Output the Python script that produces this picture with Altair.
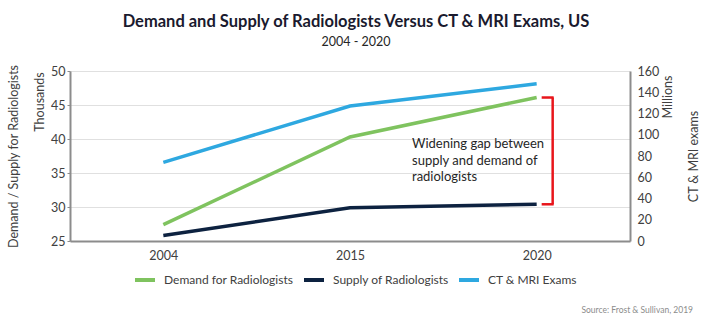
import altair as alt
import pandas as pd

years = ["2004", "2015", "2020"]
demand = [27.4, 40.3, 46.1]
supply = [25.8, 29.9, 30.4]
exams = [74, 127, 148]
series_names = ["Demand for Radiologists", "Supply of Radiologists", "CT & MRI Exams"]
series_colors = ["#7fc35f", "#0d2240", "#2ea8e0"]
left_ticks = [25, 30, 35, 40, 45, 50]
right_ticks = [0, 20, 40, 60, 80, 100, 120, 140, 160]

FONT = "Lato"
GRAY = "#8c8c8c"
TXT = "#404040"

left_df = pd.DataFrame(
    {"year": years * 2,
     "series": [series_names[0]] * 3 + [series_names[1]] * 3,
     "value": demand + supply}
)
right_df = pd.DataFrame({"year": years, "series": [series_names[2]] * 3, "value": exams})
bracket_df = pd.DataFrame({"year": [years[-1]], "value": [demand[-1]], "bottom": [supply[-1]]})
bracket_df2 = pd.DataFrame({"year": [years[-1]], "value": [supply[-1]]})
note_df = pd.DataFrame({"year": [years[1]], "value": [39.2]})

xenc = alt.X("year:N", title=None, sort=years,
             scale=alt.Scale(type="point", padding=0.5),
             axis=alt.Axis(labelAngle=0, ticks=False, domain=True, domainColor=GRAY,
                           domainWidth=2, labelFontSize=12.5, labelColor=TXT,
                           labelPadding=8, grid=False, title=None))

color = alt.Color("series:N", sort=series_names,
                  scale=alt.Scale(domain=series_names, range=series_colors),
                  legend=alt.Legend(title=None, orient="none", legendX=63, legendY=197,
                                    direction="horizontal", symbolType="stroke",
                                    symbolStrokeWidth=4, symbolSize=400,
                                    labelFontSize=12, labelColor=TXT, labelOffset=7,
                                    gridAlign="each", columnPadding=2, labelFont=FONT))

left_axis = alt.Axis(values=left_ticks, title="Demand / Supply for Radiologists",
                     titleFontSize=12.5, titleFontWeight="normal", titleColor=TXT,
                     titleX=-50, titleY=85, titleAngle=270, titleAlign="center",
                     labelFontSize=12.5, labelColor=TXT, tickSize=3,
                     tickColor=GRAY, domainColor=GRAY, domainWidth=2,
                     gridColor="#e0e0e0", gridWidth=1)


def yleft(field="value"):
    return alt.Y(f"{field}:Q", scale=alt.Scale(domain=[25, 50]), axis=left_axis, title="Demand / Supply for Radiologists")


left = alt.Chart(left_df).mark_line(strokeWidth=3.5).encode(x=xenc, y=yleft(), color=color)

right = alt.Chart(right_df).mark_line(strokeWidth=3.5).encode(
    x=xenc,
    y=alt.Y("value:Q", scale=alt.Scale(domain=[0, 160]), title="CT & MRI exams",
            axis=alt.Axis(orient="right", values=right_ticks, title="CT & MRI exams",
                          titleFontSize=12.5, titleFontWeight="normal", titleColor=TXT,
                          titleX=70, titleY=85, titleAngle=270, titleAlign="center",
                          labelFontSize=12.5, labelColor=TXT, ticks=False, labelPadding=7,
                          domainColor=GRAY, domainWidth=2, grid=False)),
    color=color)

RED = "#e8151b"
bracket_v = alt.Chart(bracket_df).mark_rule(color=RED, strokeWidth=2.5, xOffset=16).encode(
    x=xenc, y=yleft(), y2="bottom:Q")
bracket_t = alt.Chart(bracket_df).mark_rule(color=RED, strokeWidth=2.5, xOffset=5, x2Offset=17).encode(
    x=xenc, x2="year:N", y=yleft())
bracket_b = alt.Chart(bracket_df2).mark_rule(color=RED, strokeWidth=2.5, xOffset=5, x2Offset=17).encode(
    x=xenc, x2="year:N", y=yleft())

note = alt.Chart(note_df).mark_text(
    text=["Widening gap between", "supply and demand of", "radiologists"],
    align="left", baseline="middle", dx=62, fontSize=13, lineHeight=16.5,
    color="#262626", font=FONT).encode(x=xenc, y=yleft())

thousands = alt.Chart(note_df).mark_text(
    text="Thousands", angle=270, fontSize=12.5, color=TXT, font=FONT).encode(
    x=alt.value(-30), y=alt.value(31))
millions = alt.Chart(note_df).mark_text(
    text="Millions", angle=270, fontSize=12.5, color=TXT, font=FONT).encode(
    x=alt.value(598), y=alt.value(26))
source = alt.Chart(note_df).mark_text(
    text="Source: Frost & Sullivan, 2019", align="right", fontSize=8.5,
    color=GRAY, font=FONT).encode(x=alt.value(623), y=alt.value(239))

chart = alt.layer(
    alt.layer(left, bracket_v, bracket_t, bracket_b, note, thousands, source),
    alt.layer(right, millions),
).resolve_scale(y="independent").properties(
    width=560, height=170,
    title=alt.TitleParams(
        "Demand and Supply of Radiologists Versus CT & MRI Exams, US",
        subtitle="2004 - 2020", anchor="middle", dx=6, offset=16,
        fontSize=16.5, fontWeight="bold", color="#1a1a2e", font=FONT,
        subtitleFontSize=12.5, subtitleColor="#262626", subtitleFont=FONT, subtitlePadding=5),
    autosize=alt.AutoSizeParams(type="none"),
    padding={"left": 70, "top": 71, "right": 80, "bottom": 80},
).configure_view(stroke=None).configure_axis(labelFont=FONT, titleFont=FONT)

chart.save("out.html", embed_options={"renderer": "svg", "actions": False})
